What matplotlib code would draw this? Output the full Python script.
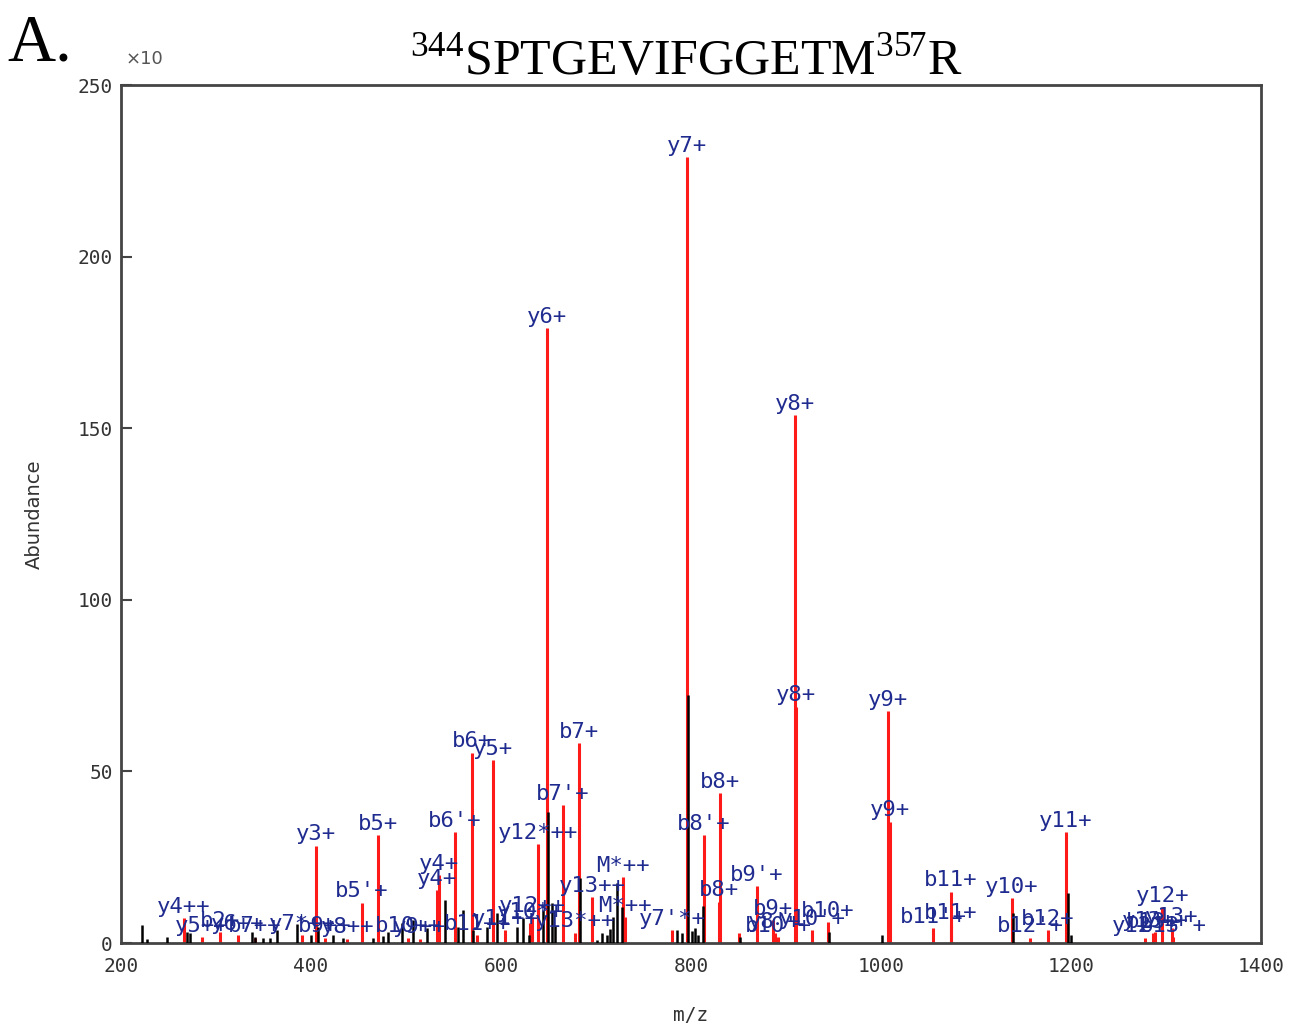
import matplotlib
matplotlib.use('Agg')
import matplotlib.pyplot as plt

# 标注的碎片离子峰 (红色)  m/z, 丰度(x10), 标签
ion_mz = [266.3, 285.3, 304.2, 323.2, 341.1, 390.5, 405.3, 414.5, 438.0, 453.7,
          470.5, 502.1, 514.7, 532.6, 534.7, 551.6, 569.5, 574.7, 591.6, 604.2,
          630.5, 632.6, 638.9, 648.4, 665.3, 678.0, 682.1, 695.8, 728.4, 730.5,
          780.0, 795.8, 813.7, 829.5, 830.5, 850.5, 869.5, 886.3, 888.4, 891.6,
          909.5, 910.5, 927.4, 944.2, 1007.4, 1009.5, 1054.7, 1073.2, 1073.7, 1137.9,
          1156.8, 1175.8, 1194.7, 1277.9, 1286.3, 1288.4, 1295.8, 1306.3, 1307.4]
ion_int = [7.3, 1.7, 3.2, 2.3, 1.5, 2.3, 28.3, 1.5, 1.2, 11.7,
           31.5, 1.5, 1.2, 15.4, 19.8, 32.3, 55.4, 2.3, 53.3, 3.8,
           5.8, 7.6, 28.8, 179.2, 40.2, 3.0, 58.3, 13.4, 19.2, 7.6,
           3.8, 229.0, 31.5, 12.0, 43.7, 2.9, 16.5, 6.7, 2.9, 1.7,
           153.8, 68.8, 3.8, 6.1, 67.6, 35.3, 4.4, 5.5, 14.9, 13.1,
           1.5, 3.8, 32.3, 1.5, 2.9, 3.2, 10.5, 4.4, 1.7]
ion_labels = ['y4++', 'y5++', 'b2+', 'y6++', 'b7++', 'y7*++', 'y3+', 'b9++', 'y8++', "b5'+",
              'b5+', 'b10++', 'y9++', 'y4+', 'y4+', "b6'+", 'b6+', 'b11++', 'y5+', 'y11++',
              'y10*+', 'y12++', 'y12*++', 'y6+', "b7'+", 'y13*++', 'b7+', 'y13++', 'M*++', 'M*++',
              "y7'*+", 'y7+', "b8'+", 'b8+', 'b8+', '', "b9'+", 'b9+', "y8'+", "b10'+",
              'y8+', 'y8+', "y10'+", 'b10+', 'y9+', 'y9+', "b11'+", 'b11+', 'b11+', 'y10+',
              "b12'+", 'b12+', 'y11+', "y12'+", 'b13+', 'y13++', 'y12+', 'y13+', "b13'+"]

# 未标注的峰 (黑色)
raw_mz = [222.1, 227.4, 248.4, 269.5, 272.6, 337.9, 341.1, 349.5, 356.8, 364.2,
          385.3, 400.0, 407.4, 423.2, 433.7, 465.3, 475.8, 481.1, 495.8, 507.4,
          522.1, 541.1, 554.7, 560.0, 570.5, 585.3, 595.8, 616.8, 623.2, 629.5,
          644.2, 649.5, 653.7, 656.8, 683.2, 701.1, 706.3, 711.6, 714.7, 717.9,
          722.1, 727.4, 785.3, 790.5, 796.8, 801.1, 804.2, 807.4, 812.6, 851.6,
          945.3, 1001.1, 1138.9, 1196.8, 1200.0]
raw_int = [5.2, 1.2, 1.7, 3.2, 2.9, 3.2, 1.7, 1.5, 1.5, 3.8,
           5.5, 2.3, 4.7, 2.3, 1.5, 1.5, 2.0, 3.2, 5.8, 6.7,
           4.4, 12.5, 4.7, 9.6, 3.8, 4.7, 8.7, 4.7, 7.3, 2.3,
           9.6, 38.2, 11.7, 5.0, 19.0, 0.9, 2.9, 2.3, 4.0, 7.6,
           17.5, 10.5, 3.8, 2.9, 72.3, 3.5, 4.4, 2.3, 10.8, 1.7,
           3.2, 2.3, 8.7, 14.5, 2.3]

x_ticks = [200, 400, 600, 800, 1000, 1200, 1400]
y_ticks = [0, 50, 100, 150, 200, 250]

plt.rcParams['mathtext.fontset'] = 'custom'
plt.rcParams['mathtext.rm'] = 'Liberation Serif'

fig = plt.figure(figsize=(12.92, 10.23), dpi=100)
ax = fig.add_axes([0.0937, 0.0782, 0.8824, 0.8387])

ax.vlines(ion_mz, 0, ion_int, color='#ff1a1a', linewidth=2.2, zorder=2)
ax.vlines(raw_mz, 0, raw_int, color='black', linewidth=1.8, zorder=3)

for x, h, lab in zip(ion_mz, ion_int, ion_labels):
    if lab:
        ax.annotate(lab, (x, h), xytext=(0, 1), textcoords='offset points',
                    ha='center', va='bottom', fontsize=16, color='#1f2b8f',
                    family='DejaVu Sans Mono', zorder=5)

ax.set_xlim(200, 1400)
ax.set_ylim(0, 250)
ax.set_xticks(x_ticks)
ax.set_yticks(y_ticks)
ax.tick_params(axis='y', direction='in', length=8, width=1.5, pad=6,
               labelsize=14, labelcolor='#333333', color='#444444')
ax.tick_params(axis='x', length=0, pad=10, labelsize=14, labelcolor='#333333')
for lbl in ax.get_xticklabels() + ax.get_yticklabels():
    lbl.set_family('DejaVu Sans Mono')
for sp in ax.spines.values():
    sp.set_color('#444444')
    sp.set_linewidth(2)

ax.set_xlabel('m/z', fontsize=14, color='#333333', family='DejaVu Sans Mono', labelpad=22)
ax.set_ylabel('Abundance', fontsize=14, color='#333333', labelpad=24)

fig.text(0.097, 0.937, '×10', fontsize=13, color='#555555', va='baseline')
fig.text(0.006, 0.941, 'A.', fontsize=48, family='Liberation Serif', va='baseline')
fig.text(0.531, 0.927, r'$^{344}$SPTGEVIFGGETM$^{357}$R', fontsize=36,
         family='Liberation Serif', ha='center', va='baseline')

fig.savefig('out.png', dpi=100)
